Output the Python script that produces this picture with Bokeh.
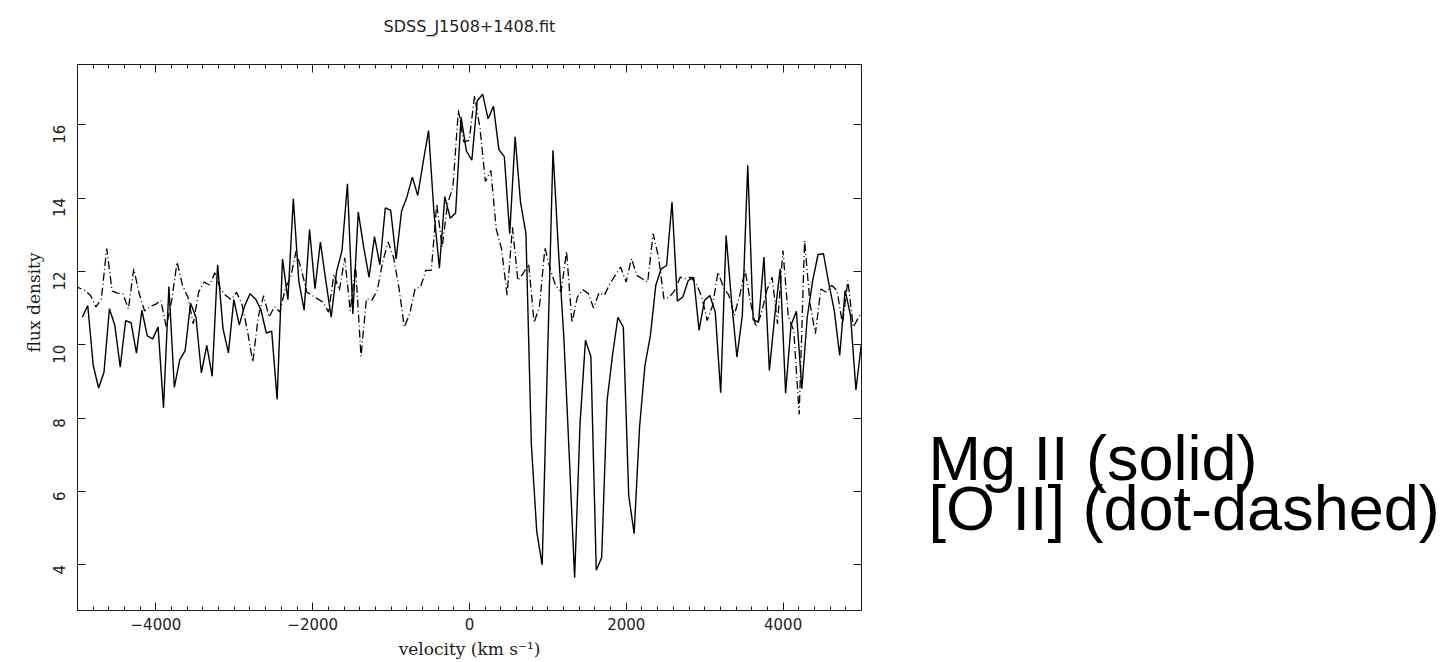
import numpy as np
from bokeh.plotting import figure
from bokeh.models import Range1d, LinearAxis, SingleIntervalTicker, Title, CustomLabelingPolicy
from bokeh.layouts import row
from bokeh.embed import file_html
from bokeh.resources import INLINE
from bokeh.core.properties import value
import math

# ---------------- data ----------------
title_text = "SDSS_J1508+1408.fit"
x_label = "velocity (km s\u207b\u00b9)"
y_label = "flux density"
annotation_lines = ["Mg II (solid)", "[O II] (dot-dashed)"]

# Mg II (solid) : pixel grid start / step in km/s
mg_v_start, mg_v_step = -4938, 69
mg_flux = [
    10.75, 11.07, 9.44, 8.82, 9.25, 10.98, 10.53, 9.39, 10.66, 10.60,
    9.77, 10.94, 10.24, 10.16, 10.48, 8.28, 11.59, 8.84, 9.59, 9.84,
    11.13, 10.75, 9.23, 9.98, 9.14, 12.18, 10.44, 9.78, 11.23, 10.54,
    11.06, 11.39, 11.25, 10.96, 10.32, 10.37, 8.51, 12.34, 11.23, 13.98,
    11.75, 10.94, 13.14, 11.53, 12.80, 11.75, 10.75, 12.00, 12.57, 14.39,
    10.84, 13.62, 12.66, 11.84, 12.95, 12.18, 13.73, 13.66, 12.34, 13.64,
    14.03, 14.57, 14.07, 14.98, 15.84, 13.60, 12.09, 14.04, 13.45, 13.59,
    16.21, 15.28, 15.03, 16.65, 16.83, 16.16, 16.50, 15.32, 15.13, 13.03,
    15.67, 13.88, 13.03, 7.28, 4.90, 4.00, 9.70, 15.30, 12.60, 10.21,
    7.00, 3.65, 7.85, 10.12, 9.68, 3.85, 4.20, 8.48, 9.71, 10.75,
    10.48, 5.89, 4.85, 7.75, 9.44, 10.25, 11.62, 12.07, 12.16, 13.89,
    11.19, 11.30, 11.75, 11.84, 10.39, 11.21, 11.34, 10.89, 8.69, 12.98,
    11.20, 9.66, 10.80, 14.89, 10.68, 10.62, 12.39, 9.30, 10.80, 12.07,
    8.68, 10.53, 10.91, 8.80, 10.75, 11.75, 12.46, 12.48, 11.66, 10.93,
    9.71, 11.48, 10.80, 8.77, 10.02,
]

# [O II] (dot-dashed)
oii_v_start, oii_v_step = -5041, 69
oii_flux = [
    11.62, 11.54, 11.48, 11.34, 11.03, 11.25, 12.62, 11.46, 11.41, 11.39,
    10.98, 12.07, 11.39, 10.92, 11.04, 11.10, 11.21, 10.48, 11.21, 12.25,
    11.62, 11.30, 10.57, 11.44, 11.71, 11.63, 11.96, 11.53, 11.34, 11.23,
    11.43, 11.10, 10.39, 9.53, 10.75, 11.34, 10.75, 11.04, 10.89, 11.53,
    11.84, 12.55, 12.03, 11.43, 11.34, 11.25, 11.16, 10.89, 11.92, 11.48,
    12.37, 10.93, 12.15, 9.68, 11.25, 11.21, 11.48, 12.25, 12.80, 12.39,
    11.57, 10.48, 10.84, 11.53, 11.57, 12.03, 12.03, 13.84, 12.66, 13.84,
    14.30, 16.39, 15.53, 15.57, 16.79, 15.90, 14.45, 14.75, 13.15, 12.60,
    11.35, 13.20, 11.75, 11.95, 12.20, 10.60, 11.05, 12.65, 12.05, 11.60,
    11.45, 12.55, 10.60, 11.30, 11.50, 11.40, 11.00, 11.42, 11.35, 11.66,
    11.89, 12.12, 11.71, 12.35, 11.89, 11.80, 11.71, 13.03, 12.39, 11.25,
    11.30, 11.48, 11.84, 11.80, 11.84, 11.66, 11.30, 10.66, 11.07, 11.98,
    11.57, 11.35, 10.80, 11.34, 12.03, 11.16, 10.48, 10.84, 11.48, 11.84,
    10.57, 12.57, 10.75, 10.39, 8.10, 12.84, 11.12, 10.30, 11.52, 11.43,
    11.62, 11.48, 10.57, 11.75, 10.48, 10.75, 11.00,
]

x_tick_labels = {-4000: "\u22124000", -2000: "\u22122000", 0: "0", 2000: "2000", 4000: "4000"}

mg_v = mg_v_start + mg_v_step * np.arange(len(mg_flux))
oii_v = oii_v_start + oii_v_step * np.arange(len(oii_flux))

INK = "#1a1a1a"

# ---------------- main plot ----------------
p = figure(width=878, height=662, output_backend="svg", toolbar_location=None,
           x_range=Range1d(-5000, 5000), y_range=Range1d(2.755, 17.64),
           x_axis_location=None, y_axis_location=None,
           min_border_left=77, min_border_right=17, min_border_top=64,
           min_border_bottom=52)
p.grid.grid_line_color = None
p.outline_line_color = INK
p.outline_line_width = 1
p.background_fill_color = "white"
p.border_fill_color = "white"

p.title = Title(text=title_text, align="center", text_font="DejaVu Sans",
                text_font_size="16px", text_font_style="normal",
                text_color="#222222", vertical_align="top", standoff=32)

no_labels = CustomLabelingPolicy(code="""
const all = Array.from(indices)
for (const i of all) { indices.unset(i) }
return indices
""")


def make_axis(ticker, show_labels):
    ax = LinearAxis(ticker=ticker)
    ax.axis_line_color = INK
    ax.major_tick_line_color = INK
    ax.minor_tick_line_color = INK
    ax.major_tick_in = 8
    ax.major_tick_out = 0
    ax.minor_tick_in = 4
    ax.minor_tick_out = 0
    if show_labels:
        ax.major_label_text_font = "DejaVu Sans"
        ax.major_label_text_font_size = "15px"
        ax.major_label_text_color = "#222222"
        ax.axis_label_text_font = "DejaVu Serif"
        ax.axis_label_text_font_size = "17px"
        ax.axis_label_text_font_style = "normal"
        ax.axis_label_text_color = INK
    else:
        ax.major_label_policy = no_labels
        ax.major_label_standoff = 0
    return ax


xb = make_axis(SingleIntervalTicker(interval=2000, num_minor_ticks=10), True)
xb.major_label_overrides = x_tick_labels
xb.major_label_standoff = 7
xb.axis_label = x_label
xb.axis_label_standoff = 6
p.add_layout(xb, "below")

xt = make_axis(SingleIntervalTicker(interval=2000, num_minor_ticks=10), False)
p.add_layout(xt, "above")

yl = make_axis(SingleIntervalTicker(interval=2, num_minor_ticks=2), True)
yl.minor_tick_line_color = None
yl.major_label_orientation = math.pi / 2
yl.major_label_standoff = 18
# leading no-break spaces lift the visible title above mid-frame, as in the reference
yl.axis_label = "\u00a0" * 13 + y_label
yl.axis_label_standoff = 1
p.add_layout(yl, "left")

yr = make_axis(SingleIntervalTicker(interval=2, num_minor_ticks=2), False)
yr.minor_tick_line_color = None
p.add_layout(yr, "right")

p.line(mg_v, mg_flux, line_color="black", line_width=1.4)
p.line(oii_v, oii_flux, line_color="black", line_width=1.3, line_dash="8 3 1 3")

# ---------------- right-hand annotation ----------------
p2 = figure(width=563, height=662, output_backend="svg", toolbar_location=None,
            x_range=Range1d(0, 563), y_range=Range1d(662, 0),
            min_border=0)
p2.axis.visible = False
p2.grid.visible = False
p2.outline_line_color = None
p2.text(x=[50, 50], y=[477, 538], text=annotation_lines,
        text_font=value("Liberation Sans"), text_font_size="63px",
        text_baseline="alphabetic", text_align="left", text_color="black")

layout = row(p, p2)
open("out.html", "w").write(file_html(layout, INLINE))
